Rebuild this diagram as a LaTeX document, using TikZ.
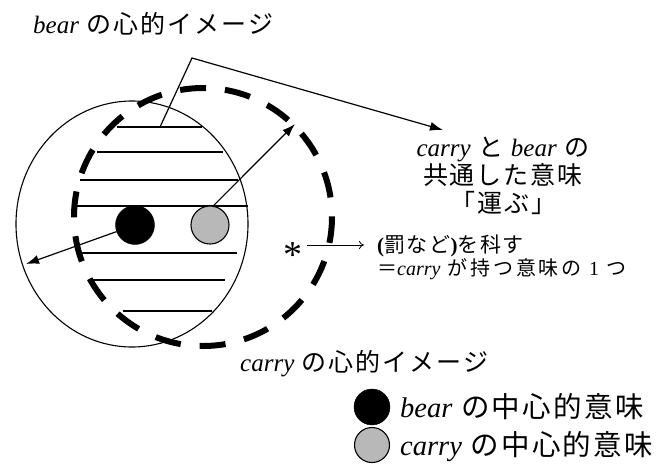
\documentclass[tikz,border=0pt]{standalone}
\usepackage{fontspec}
\setmainfont{Liberation Serif}
\newfontfamily\jp[LetterSpace=8]{Noto Sans CJK JP}
\newfontfamily\jpwide[LetterSpace=14]{Noto Sans CJK JP}
\usetikzlibrary{arrows.meta}
\newcommand\en[1]{{\rmfamily\itshape #1}}
\tikzset{
  thinline/.style={line width=1.1pt},
  stripe/.style={line width=1.1pt},
  carrycircle/.style={line width=6pt, dash pattern=on 26pt off 19pt},
  beardot/.style={circle, fill=black, draw=black, inner sep=0pt},
  carrydot/.style={circle, fill=black!28, draw=black, line width=1.1pt, inner sep=0pt},
  bigarrow/.style={line width=1.2pt, -{Latex[length=13pt,width=9pt]}},
  lbl/.style={inner sep=0pt, font=\jp\fontsize{25}{28}\selectfont},
  midlbl/.style={inner sep=0pt, font=\jp\fontsize{21}{24}\selectfont},
  smalllbl/.style={inner sep=0pt, font=\jpwide\fontsize{20}{22}\selectfont},
  leglbl/.style={inner sep=0pt, font=\jp\fontsize{28.5}{30}\selectfont},
}
\begin{document}
\begin{tikzpicture}[x=1pt,y=-1pt]
\useasboundingbox[fill=white] (0,0) rectangle (657,475);
% stripes
\draw[stripe] (117,127) -- (202,127);
\draw[stripe] (97,152) -- (223,152);
\draw[stripe] (80,180) -- (238,180);
\draw[stripe] (77,206) -- (248,206);
\draw[stripe] (82,253) -- (237,253);
\draw[stripe] (93,280) -- (225,280);
\draw[stripe] (123,311) -- (212,311);
% bear image (thin circle)
\draw[thinline] (132,224) ellipse [x radius=116, y radius=123];
% carry image (dashed circle)
\draw[carrycircle] (203,217) circle [radius=129];
% central meanings
\node[beardot, minimum size=39pt] (bdot) at (135,225) {};
\node[carrydot, minimum size=38pt] (gdot) at (210,225) {};
% arrows from dots
\coordinate (ltip) at (26,264);
\coordinate (rtip) at (295,124);
\draw[bigarrow] (bdot) -- (ltip);
\draw[bigarrow] (gdot.80) -- (rtip);
% line from stripe to common meaning
\coordinate (s1) at (160,127);
\coordinate (bend) at (192,58);
\coordinate (ctip) at (443,130);
\draw[bigarrow] (s1) -- (bend) -- (ctip);
% labels
\node[lbl, anchor=base west] (bearlbl) at (33,33) {\en{bear} の心的イメージ};
\node[lbl, align=center, anchor=center] (common) at (503,176)
  {\en{carry} と \en{bear} の\\共通した意味\\「運ぶ」};
\node[inner sep=0pt, font=\fontsize{38}{38}\selectfont] (star) at (293,255) {*};
\coordinate (sstart) at (307,245);
\coordinate (send) at (364,245);
\draw[line width=0.8pt, -{To[length=5pt,width=8pt]}] (sstart) -- (send);
\node[midlbl, anchor=base west] (punish) at (377,252) {{\rmfamily\bfseries (}罰など{\rmfamily\bfseries )}を科す};
\node[smalllbl, anchor=base west] (oneof) at (377,275) {＝\en{carry} が持つ意味の {\rmfamily 1} つ};
\node[lbl, anchor=base west] (carrylbl) at (240,371) {\en{carry} の心的イメージ};
% legend
\node[beardot, minimum size=36pt] (lb) at (372,407) {};
\node[carrydot, minimum size=35pt] (lc) at (372,445) {};
\node[leglbl, anchor=base west] (lbt) at (400,417) {\en{bear} の中心的意味};
\node[leglbl, anchor=base west] (lct) at (400,455) {\en{carry} の中心的意味};
\end{tikzpicture}
\end{document}
